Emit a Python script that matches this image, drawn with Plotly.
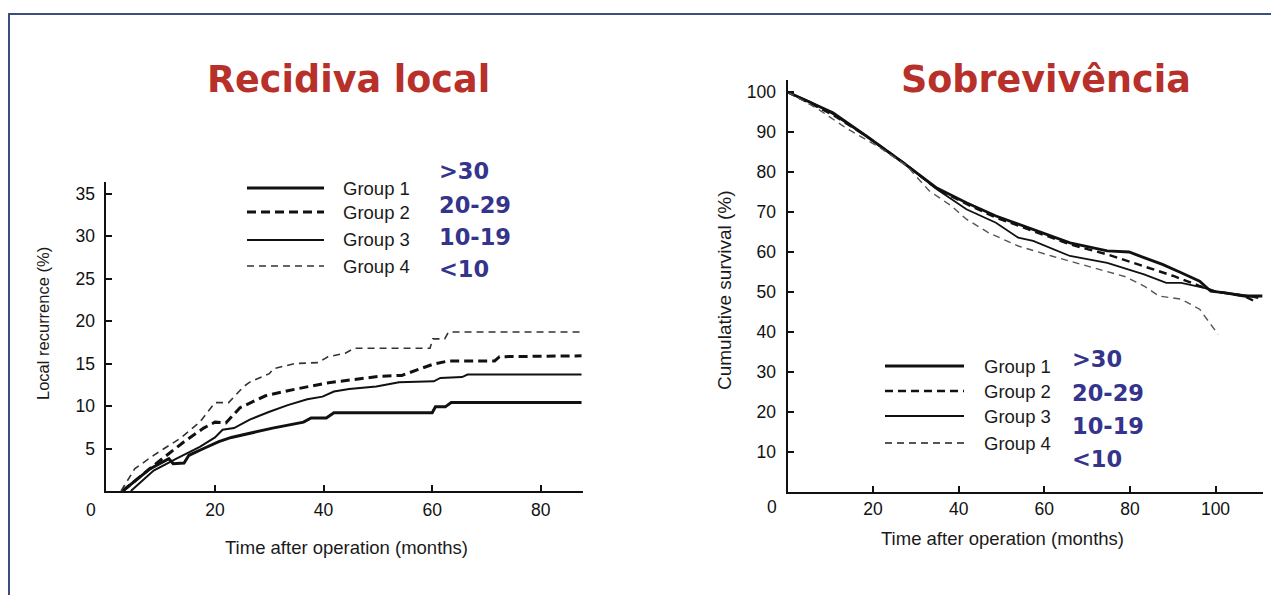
import plotly.graph_objects as go

# page is rendered with an 8px body margin; figure is sized/positioned to compensate
PAGE_W, PAGE_H = 1279, 595
OFF = 8
FW, FH = PAGE_W - OFF, PAGE_H - OFF

# ---------------- data: local recurrence (left) ----------------
rec_g1_x = [3, 8, 11.5, 12.3, 14.3, 15.2, 17.9, 20.7, 23.0, 26.4, 30.6, 36.3, 37.7, 40.5, 41.9, 60.0, 60.6, 62.4, 63.5, 87.5]
rec_g1_y = [0, 2.6, 3.8, 3.2, 3.3, 4.2, 5.0, 5.8, 6.3, 6.8, 7.4, 8.1, 8.6, 8.6, 9.2, 9.2, 9.9, 9.9, 10.4, 10.4]

rec_g2_x = [3, 8.7, 14.3, 17.9, 20.0, 22.0, 24.6, 29.3, 33.4, 37.7, 40.5, 45.4, 50.4, 54.4, 57.7, 60.1, 63.0, 71.5, 72.4, 87.5]
rec_g2_y = [0, 3.0, 5.8, 7.4, 8.1, 8.0, 9.8, 11.2, 11.8, 12.3, 12.7, 13.1, 13.5, 13.6, 14.3, 14.9, 15.3, 15.3, 15.8, 15.9]

rec_g3_x = [4.5, 8.7, 12.9, 17.2, 20.0, 21.4, 23.5, 26.4, 29.9, 33.4, 37.0, 39.8, 41.9, 44.7, 49.7, 53.9, 60.3, 61.5, 65.5, 66.5, 87.5]
rec_g3_y = [0, 2.4, 3.8, 5.2, 6.3, 7.2, 7.4, 8.4, 9.3, 10.1, 10.8, 11.1, 11.7, 12.0, 12.3, 12.8, 12.9, 13.3, 13.4, 13.7, 13.7]

rec_g4_x = [2.7, 5.2, 8.7, 13.6, 17.2, 20.0, 22.5, 25.3, 26.4, 30.0, 30.8, 34.8, 39.0, 40.8, 44.0, 45.6, 59.6, 60.1, 62.3, 63.0, 87.5]
rec_g4_y = [0, 2.6, 4.2, 6.2, 8.1, 10.4, 10.4, 12.3, 12.8, 13.8, 14.4, 15.0, 15.1, 15.8, 16.2, 16.8, 16.8, 17.9, 17.9, 18.7, 18.7]

# ---------------- data: cumulative survival (right) ----------------
sur_g1_x = [0, 5.4, 10.6, 18.4, 27.1, 34.9, 41.8, 48.7, 57.4, 66.0, 74.7, 79.8, 83.3, 87.6, 92.0, 96.3, 98.9, 102.3, 106.7, 111.0]
sur_g1_y = [100, 97.3, 94.8, 89.0, 82.3, 76.0, 72.3, 69.0, 65.7, 62.3, 60.3, 60.0, 58.6, 56.9, 54.8, 52.7, 50.2, 49.8, 49.0, 49.0]

sur_g2_x = [0, 5.4, 10.6, 18.4, 27.1, 34.9, 41.8, 48.7, 57.4, 66.0, 74.7, 83.3, 90.2, 96.3, 99.7, 106.7, 108.5, 109.5]
sur_g2_y = [100, 97.0, 94.3, 89.0, 82.3, 75.8, 72.0, 68.6, 65.2, 61.9, 59.4, 56.5, 54.0, 51.5, 50.2, 49.0, 48.0, 47.5]

sur_g3_x = [0, 5.4, 10.6, 18.4, 27.1, 34.9, 41.8, 48.7, 53.9, 57.4, 66.0, 74.7, 83.3, 88.5, 92.0, 97.1, 100.6, 106.7, 110.0]
sur_g3_y = [100, 97.5, 94.5, 89.0, 82.3, 75.7, 70.7, 67.3, 63.6, 62.8, 59.0, 57.3, 54.4, 52.3, 52.3, 51.1, 50.0, 49.2, 48.5]

sur_g4_x = [0, 7.2, 14.1, 21.0, 27.9, 33.1, 38.3, 41.8, 47.0, 53.9, 61.7, 70.3, 79.0, 83.3, 86.8, 92.0, 96.3, 100.6]
sur_g4_y = [100, 95.7, 90.7, 86.5, 81.5, 75.3, 71.5, 68.2, 64.8, 61.5, 59.0, 56.5, 53.8, 51.5, 49.0, 48.2, 45.7, 39.4]

group_names = ["Group 1", "Group 2", "Group 3", "Group 4"]
group_labels = [">30", "20-29", "10-19", "<10"]

rec_ticks_x = [20, 40, 60, 80]
rec_ticks_y = [5, 10, 15, 20, 25, 30, 35]
sur_ticks_x = [20, 40, 60, 80, 100]
sur_ticks_y = [10, 20, 30, 40, 50, 60, 70, 80, 90, 100]

# ---------------- styles ----------------
styles = [
    dict(color="#111111", width=3.0, dash="solid"),
    dict(color="#111111", width=3.0, dash="9px,5px"),
    dict(color="#111111", width=2.0, dash="solid"),
    dict(color="#333333", width=1.6, dash="7px,5px"),
]
styles_r = [
    dict(color="#111111", width=2.8, dash="solid"),
    dict(color="#111111", width=2.4, dash="8px,5px"),
    dict(color="#111111", width=1.8, dash="solid"),
    dict(color="#555555", width=1.4, dash="7px,5px"),
]


def px(x):
    return (x - OFF) / FW


def py(y):
    return 1 - (y - OFF) / FH


fig = go.Figure()

rec_sets = [(rec_g1_x, rec_g1_y), (rec_g2_x, rec_g2_y), (rec_g3_x, rec_g3_y), (rec_g4_x, rec_g4_y)]
sur_sets = [(sur_g1_x, sur_g1_y), (sur_g2_x, sur_g2_y), (sur_g3_x, sur_g3_y), (sur_g4_x, sur_g4_y)]

for (xs, ys), st, nm in zip(rec_sets, styles, group_names):
    fig.add_trace(go.Scatter(x=xs, y=ys, mode="lines", line=st, name=nm,
                             xaxis="x", yaxis="y", showlegend=False))
for (xs, ys), st, nm in zip(sur_sets, styles_r, group_names):
    fig.add_trace(go.Scatter(x=xs, y=ys, mode="lines", line=st, name=nm,
                             xaxis="x2", yaxis="y2", showlegend=False))

SANS = "Liberation Sans, Arial, sans-serif"
tick_font = dict(family=SANS, size=17.5, color="#111111")

axis_common = dict(showline=True, linecolor="#111111", linewidth=2, ticks="inside",
                   ticklen=6, tickwidth=1.6, tickcolor="#111111", showgrid=False,
                   zeroline=False, tickfont=tick_font)

# axis geometry (page pixels)
L_x0, L_x1 = 106.4, 106.4 + 87.8 * 5.43
L_ybot, L_ytop = 491, 491 - 36.3 * 8.5
R_x0, R_x1 = 787.5, 787.5 + 111 * 4.28
R_ybot, R_ytop = 492, 492 - 103 * 4.0

fig.update_layout(
    width=FW, height=FH,
    margin=dict(l=0, r=0, t=0, b=0),
    paper_bgcolor="white", plot_bgcolor="rgba(0,0,0,0)",
    xaxis=dict(domain=[px(L_x0), px(L_x1)], range=[0, 87.8], tickvals=rec_ticks_x,
               anchor="y", ticklabelstandoff=2, **axis_common),
    yaxis=dict(domain=[py(L_ybot), py(L_ytop)], range=[0, 36.3], tickvals=rec_ticks_y,
               anchor="x", ticklabelstandoff=6, **axis_common),
    xaxis2=dict(domain=[px(R_x0), px(R_x1)], range=[0, 111], tickvals=sur_ticks_x,
                anchor="y2", ticklabelstandoff=0, **axis_common),
    yaxis2=dict(domain=[py(R_ybot), py(R_ytop)], range=[0, 103], tickvals=sur_ticks_y,
                anchor="x2", ticklabelstandoff=6, **axis_common),
)

annotations = []
shapes = []


def text_at(x, y, text, font, xanchor="center", angle=0):
    annotations.append(dict(xref="paper", yref="paper", x=px(x), y=py(y), text=text,
                            showarrow=False, font=font, xanchor=xanchor, yanchor="middle",
                            textangle=angle))


# axis titles
text_at(346, 547, "Time after operation (months)", dict(family=SANS, size=18.5, color="#1a1a1a"))
text_at(43, 324, "Local recurrence (%)", dict(family=SANS, size=16.5, color="#1a1a1a"), angle=-90)
text_at(1002, 538, "Time after operation (months)", dict(family=SANS, size=18.5, color="#1a1a1a"))
text_at(725, 290, "Cumulative survival (%)", dict(family=SANS, size=19, color="#1a1a1a"), angle=-90)

# corner "0" labels
annotations.append(dict(xref="x", yref="y", x=0, y=0, text="0", showarrow=False,
                        xshift=-15, yshift=-19, font=tick_font))
annotations.append(dict(xref="x2", yref="y2", x=0, y=0, text="0", showarrow=False,
                        xshift=-16, yshift=-15, font=tick_font))

# titles
red_font = dict(family="DejaVu Sans, Verdana, sans-serif", size=36.5, color="#b8302a")
text_at(348, 80, "<b>Recidiva local</b>", red_font)
text_at(1046, 80, "<b>Sobrevivência</b>", red_font)

blue_font = dict(family="DejaVu Sans, Verdana, sans-serif", size=22.5, color="#34348c")
leg_font = dict(family=SANS, size=18.5, color="#1a1a1a")

# left legend
left_leg_y = [188, 212, 240, 266]
left_lab_y = [171, 205, 237, 269]
for i in range(4):
    st = styles[i]
    shapes.append(dict(type="line", xref="paper", yref="paper", x0=px(247), x1=px(324),
                       y0=py(left_leg_y[i]), y1=py(left_leg_y[i]),
                       line=dict(color=st["color"], width=st["width"], dash=st["dash"])))
    text_at(341, left_leg_y[i], group_names[i], leg_font, xanchor="left")
    text_at(437, left_lab_y[i], "<b>" + group_labels[i] + "</b>", blue_font, xanchor="left")

# right legend
right_leg_y = [366, 391, 416, 443]
right_lab_y = [359, 393, 426, 459]
for i in range(4):
    st = styles_r[i]
    shapes.append(dict(type="line", xref="paper", yref="paper", x0=px(885), x1=px(964),
                       y0=py(right_leg_y[i]), y1=py(right_leg_y[i]),
                       line=dict(color=st["color"], width=max(st["width"], 2.0), dash=st["dash"])))
    text_at(982, right_leg_y[i], group_names[i], leg_font, xanchor="left")
    text_at(1070, right_lab_y[i], "<b>" + group_labels[i] + "</b>", blue_font, xanchor="left")

# frame lines (top and left)
frame_col = "#3b4f7d"
shapes.append(dict(type="line", xref="paper", yref="paper", x0=px(8), x1=1, y0=py(14), y1=py(14),
                   line=dict(color=frame_col, width=2)))
shapes.append(dict(type="line", xref="paper", yref="paper", x0=px(9), x1=px(9), y0=py(14), y1=0,
                   line=dict(color=frame_col, width=2)))

fig.update_layout(annotations=annotations, shapes=shapes)

fig.write_html("out.html")
